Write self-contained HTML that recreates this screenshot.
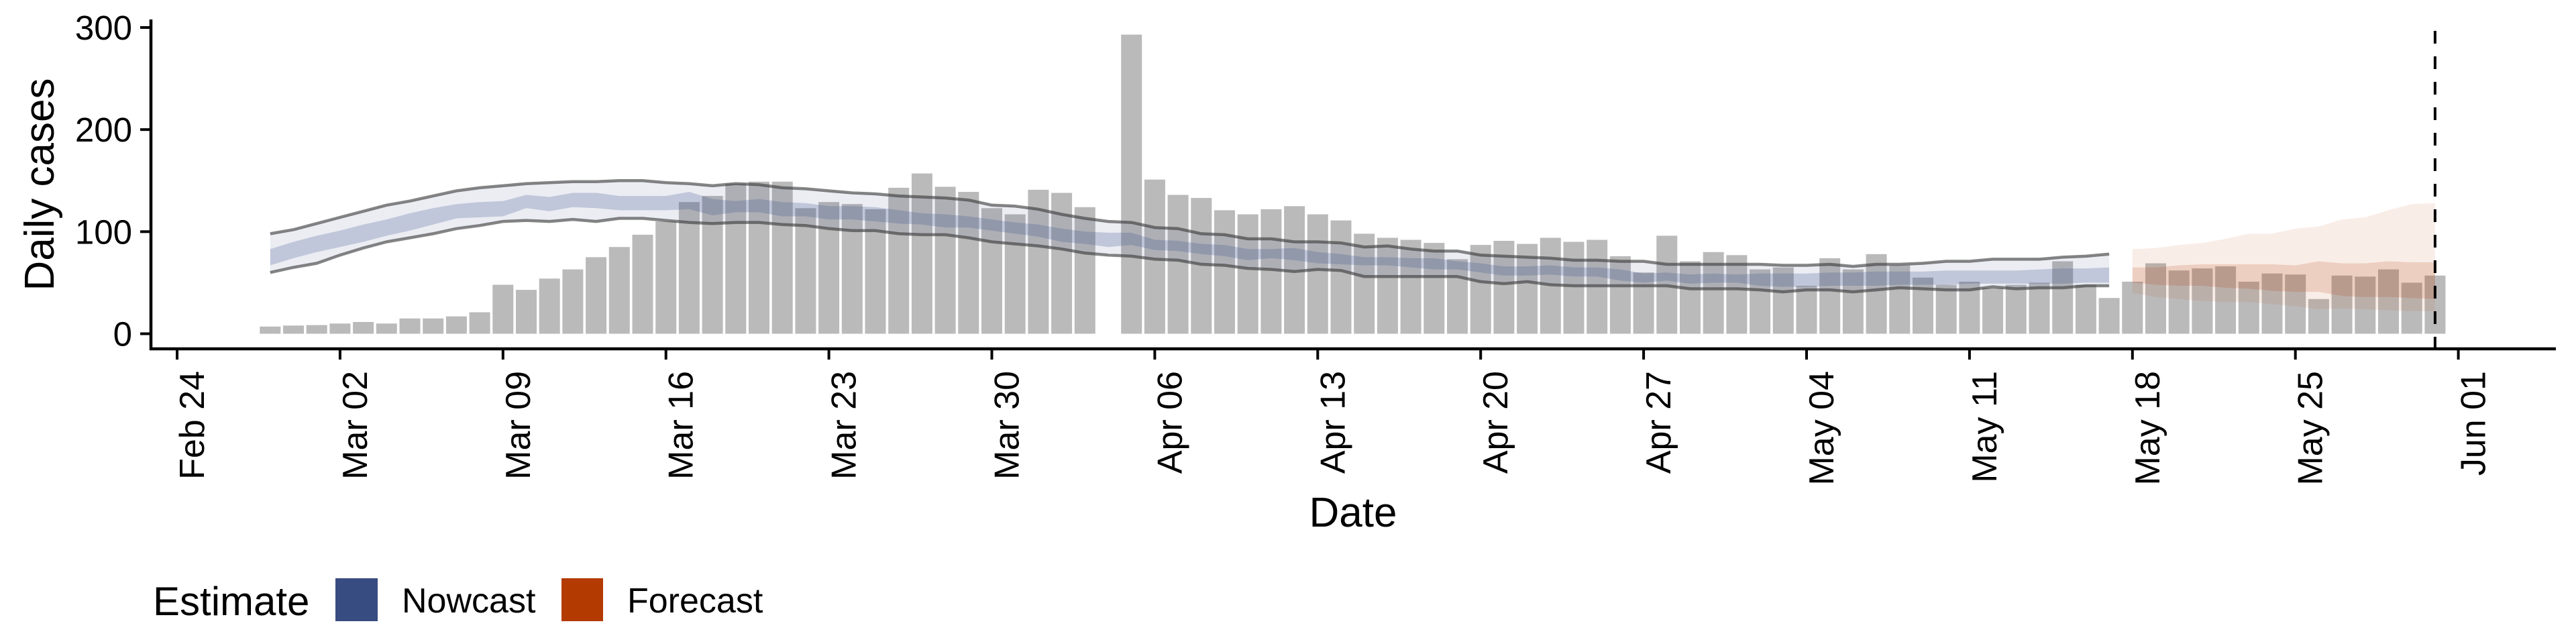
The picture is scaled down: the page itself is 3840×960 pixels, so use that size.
<!DOCTYPE html>
<html><head><meta charset="utf-8"><style>
html,body{margin:0;padding:0;background:#fff;}
svg{display:block;font-family:"Liberation Sans",Arial,sans-serif;}
</style></head><body>
<svg id="chart" width="3840" height="960" viewBox="0 0 3840 960" xmlns="http://www.w3.org/2000/svg">
<g id="bars"></g>
<g id="bands"></g>
<g id="lines"></g>
<g id="axes"></g>
<g id="legend">
  <text x="228" y="917" font-size="60">Estimate</text>
  <rect x="500" y="862" width="63" height="64" fill="#374c80"/>
  <text x="599" y="913" font-size="52">Nowcast</text>
  <rect x="837" y="862" width="62" height="64" fill="#b33a00"/>
  <text x="935" y="913" font-size="52">Forecast</text>
</g>
</svg>
<script>
// days measured from Feb 24 (2020)
const barStart = 4;
const caseValues = [7,8,8.5,10,11.5,10,15,15,17,21,
48,43,54,63,75,85,97,110,129,135,147,149,149,123,129,127,
122,143,157,144,139,123,117,
141,138,124,null,293,151,136,133,121,117,122,125,117,111,98,94,92,89,73,87,91,88,94,90,92,76,60,96,71,80,
77,
63,65,47,74,63,78,67,55,48,51,45,48,50,71,48,35,51,69,62,64,66,51,59,58,34,57,56,63,50,57];

const nowStart = 4;
const nowUpper90 = [98,102,108,114,120,126,130,135,140,143,145,147,148,149,149,150,150,148,147,145,147,146,143,142,140,138,
137,135,134,133,131,126,125,122,117,113,110,109,104,103,98,97,93,93,90,90,89,85,86,83,81,81,77,76,75,74,72,72,71,71,68,68,68,68,
68,67,67,68,66,68,68,69,71,71,73,73,73,75,76,78];
const nowLower90 = [60,65,69,77,84,90,94,98,103,106,110,111,110,112,110,113,113,111,109,108,109,109,107,106,103,101,
101,98,97,97,94,90,88,86,83,79,77,76,73,72,68,67,64,63,61,63,62,56,56,56,56,56,51,49,51,48,47,47,47,47,47,44,44,44,
43,41,43,43,41,43,45,44,43,43,46,44,45,45,47,47];
const nowUpper50 = [83,90,96,101,107,112,118,123,127,129,130,136,134,138,138,135,135,135,139,132,130,132,129,128,125,125,
124,121,118,117,115,112,109,107,103,100,99,99,92,91,88,87,83,83,84,80,78,75,75,74,74,71,69,66,66,67,65,65,63,59,60,58,59,58,
59,59,59,60,60,61,61,61,62,62,62,62,63,64,64,65];
const nowLower50 = [67,74,80,85,90,96,101,107,113,114,115,123,120,124,123,121,121,121,122,116,119,119,115,115,112,112,
110,108,107,104,104,101,98,95,90,88,85,87,82,81,78,76,72,74,72,69,68,67,67,65,63,63,60,57,57,58,56,56,52,50,52,49,50,50,
47,46,46,47,47,47,48,48,48,49,49,49,49,49,50,50];

const foreStart = 84;
const foreUpper90 = [83,84,87,89,93,98,98,103,105,112,114,121,127,128];
const foreLower90 = [40,36,34,32,31,31,29,27,24,25,24,23,22,22];
const foreUpper50 = [65,65,67,68,68,68,68,67,71,69,69,71,70,70];
const foreLower50 = [50,48,47,47,45,44,42,41,41,37,36,36,35,34];

const yTicks = [0,100,200,300];
const xTickDays = [0,7,14,21,28,35,42,49,56,63,70,77,84,91,98];
const xTickLabels = ["Feb 24","Mar 02","Mar 09","Mar 16","Mar 23","Mar 30","Apr 06","Apr 13","Apr 20","Apr 27","May 04","May 11","May 18","May 25","Jun 01"];
const forecastDateDay = 97;

const NS = "http://www.w3.org/2000/svg";
function X(d){ return 264 + 34.70*d; }
function Y(v){ return 497.5 - v*1.5217; }
function mk(tag, attrs, parent){ const e=document.createElementNS(NS,tag); for(const k in attrs) e.setAttribute(k,attrs[k]); parent.appendChild(e); return e; }

const gb = document.getElementById('bars');
caseValues.forEach((v,i)=>{
  if(v===null) return;
  const d = barStart+i;
  const r = mk('rect',{x:(X(d)-15.5).toFixed(1), y:Y(v).toFixed(1), width:31, height:(Y(0)-Y(v)).toFixed(1), fill:'#bababa'}, gb);
  
  
});

function areaPath(start, up, lo){
  let p = '';
  up.forEach((v,i)=>{ p += (i?'L':'M') + X(start+i).toFixed(1) + ',' + Y(v).toFixed(1); });
  for(let i=lo.length-1;i>=0;i--) p += 'L' + X(start+i).toFixed(1) + ',' + Y(lo[i]).toFixed(1);
  return p+'Z';
}
function linePath(start, arr){
  return arr.map((v,i)=>(i?'L':'M') + X(start+i).toFixed(1) + ',' + Y(v).toFixed(1)).join('');
}
const gbd = document.getElementById('bands');
let a;
a = mk('path',{d:areaPath(nowStart,nowUpper90,nowLower90), fill:'#3a4f8a', 'fill-opacity':0.1}, gbd);


a = mk('path',{d:areaPath(nowStart,nowUpper50,nowLower50), fill:'#3a4f8a', 'fill-opacity':0.24}, gbd);


a = mk('path',{d:areaPath(foreStart,foreUpper90,foreLower90), fill:'#c0501a', 'fill-opacity':0.1}, gbd);


a = mk('path',{d:areaPath(foreStart,foreUpper50,foreLower50), fill:'#b33a00', 'fill-opacity':0.17}, gbd);



const gl = document.getElementById('lines');
let l;
l = mk('path',{d:linePath(nowStart,nowUpper90), fill:'none', stroke:'#3a3a3a', 'stroke-opacity':0.62, 'stroke-width':4.5, 'stroke-linejoin':'round'}, gl);


l = mk('path',{d:linePath(nowStart,nowLower90), fill:'none', stroke:'#3a3a3a', 'stroke-opacity':0.62, 'stroke-width':4.5, 'stroke-linejoin':'round'}, gl);



const ga = document.getElementById('axes');
let e;
e = mk('line',{x1:X(forecastDateDay), x2:X(forecastDateDay), y1:46, y2:520, stroke:'#000', 'stroke-width':4, 'stroke-dasharray':'19,19'}, ga);


e = mk('line',{x1:225, x2:225, y1:29, y2:522, stroke:'#000', 'stroke-width':4.5}, ga);


e = mk('line',{x1:223, x2:3810, y1:520, y2:520, stroke:'#000', 'stroke-width':4.5}, ga);


yTicks.forEach(v=>{
  const t = mk('line',{x1:209, x2:225, y1:Y(v), y2:Y(v), stroke:'#000', 'stroke-width':4}, ga);
  
  
  const tx = mk('text',{x:197, y:Y(v)+18, 'font-size':51, 'text-anchor':'end'}, ga);
  tx.textContent = String(v);
  
  
});
xTickDays.forEach((d,i)=>{
  const t = mk('line',{x1:X(d), x2:X(d), y1:520, y2:536, stroke:'#000', 'stroke-width':4}, ga);
  
  
  const bx = X(d)+40, by = 553;
  const tx = mk('text',{x:bx, y:by, 'font-size':52, 'text-anchor':'end', transform:'rotate(-90 '+bx+' '+by+')'}, ga);
  tx.textContent = xTickLabels[i];
  
  
});
e = mk('text',{x:2017, y:785, 'font-size':62, 'text-anchor':'middle'}, ga);
e.textContent = 'Date';


e = mk('text',{x:80, y:275, 'font-size':62, 'text-anchor':'middle', transform:'rotate(-90 80 275)'}, ga);
e.textContent = 'Daily cases';


</script>
</body></html>
